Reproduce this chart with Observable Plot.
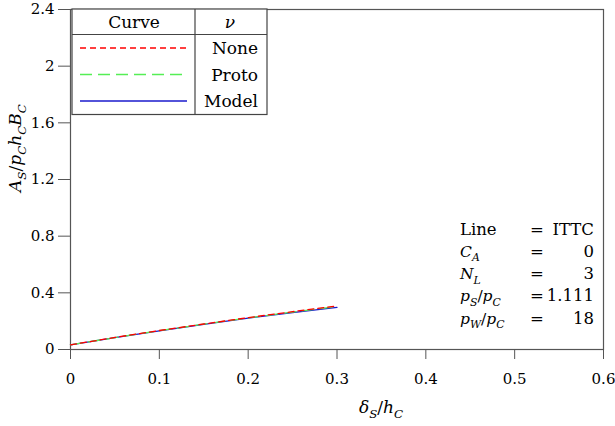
<!DOCTYPE html>
<html>
<head>
<meta charset="utf-8">
<script src="https://cdn.jsdelivr.net/npm/d3@7"></script>
<script src="https://cdn.jsdelivr.net/npm/@observablehq/plot@0.6"></script>
<style>
  html, body { margin: 0; padding: 0; background: #fff; }
  #chart { width: 615px; height: 426px; }
</style>
</head>
<body>
<div id="chart"></div>
<script>
// ---- data ----
const deltaS = [0, 0.05, 0.1, 0.15, 0.2, 0.25, 0.3];
const noneVals  = [0.033, 0.085, 0.134, 0.180, 0.225, 0.267, 0.308];
const protoVals = [0.033, 0.084, 0.133, 0.179, 0.223, 0.264, 0.303];
const modelVals = [0.033, 0.084, 0.132, 0.177, 0.221, 0.260, 0.298];
const seriesNames = ["None", "Proto", "Model"];
const seriesColors = ["#ff0000", "#55ee55", "#1a1acc"];
const seriesDash = ["6,4", "12,6", null];
const xTicks = [0, 0.1, 0.2, 0.3, 0.4, 0.5, 0.6];
const yTicks = [0, 0.4, 0.8, 1.2, 1.6, 2, 2.4];
const paramNames = ["Line", "C|A", "N|L", "p|S/p|C", "p|W/p|C"];
const paramValues = ["ITTC", "0", "3", "1.111", "18"];

const seriesVals = [noneVals, protoVals, modelVals];
const rows = [];
seriesNames.forEach((s, i) => deltaS.forEach((x, j) => rows.push({series: s, x, y: seriesVals[i][j]})));

const axisColor = "#555";
const font = "DejaVu Serif";

const lineMarks = [2, 1, 0].map(i =>
  Plot.line(rows.filter(d => d.series === seriesNames[i]), {
    x: "x", y: "y", stroke: seriesColors[i], strokeWidth: 1.3,
    strokeDasharray: seriesDash[i] || undefined
  })
);

const plot = Plot.plot({
  width: 615, height: 426,
  marginLeft: 70, marginRight: 12, marginTop: 9, marginBottom: 77,
  style: {fontFamily: font, fontSize: "15px", color: "#000", background: "#fff"},
  x: {domain: [0, 0.6]},
  y: {domain: [0, 2.4]},
  marks: [
    Plot.frame({stroke: axisColor, strokeWidth: 1.2}),
    Plot.axisX({ticks: xTicks, tickSize: 10, tickPadding: 14, stroke: axisColor, fill: "#000",
      tickFormat: d => String(d), label: null, fontSize: 15}),
    Plot.axisY({ticks: yTicks, tickSize: 12, tickPadding: 4, stroke: axisColor, fill: "#000",
      tickFormat: d => String(d), label: null, fontSize: 15}),
    ...lineMarks
  ]
});
document.getElementById("chart").appendChild(plot);

const svg = d3.select(plot);

function mathSpans(sel, spec, size) {
  let shifted = 0;
  spec.forEach(([t, it, sub]) => {
    const ts = sel.append("tspan").text(t)
      .attr("font-style", it ? "italic" : "normal")
      .attr("font-size", sub ? size * 0.7 : size);
    const target = sub ? size * 0.3 : 0;
    ts.attr("dy", target - shifted);
    shifted = target;
  });
}

// y label
const yl = svg.append("text").attr("transform", "translate(21,148) rotate(-90)")
  .attr("text-anchor", "middle").attr("font-family", font).attr("fill", "#000");
mathSpans(yl, [["A", 1, 0], ["S", 1, 1], ["/", 0, 0], ["p", 1, 0], ["C", 1, 1], ["h", 1, 0], ["C", 1, 1], ["B", 1, 0], ["C", 1, 1]], 17);

// x label
const xl = svg.append("text").attr("x", 381).attr("y", 413)
  .attr("text-anchor", "middle").attr("font-family", font).attr("fill", "#000");
mathSpans(xl, [["δ", 1, 0], ["S", 1, 1], ["/", 0, 0], ["h", 1, 0], ["C", 1, 1]], 17);

// legend table
const lg = svg.append("g").attr("font-family", font).attr("font-size", 17).attr("fill", "#000");
const L = 72, R = 267, T = 9, H = 34.5, B = 114.5, C = 195;
lg.append("rect").attr("x", L).attr("y", T).attr("width", R - L).attr("height", B - T)
  .attr("fill", "#fff").attr("stroke", "#444").attr("stroke-width", 1.2);
lg.append("line").attr("x1", L).attr("x2", R).attr("y1", H).attr("y2", H).attr("stroke", "#444").attr("stroke-width", 1.2);
lg.append("line").attr("x1", C).attr("x2", C).attr("y1", T).attr("y2", B).attr("stroke", "#444").attr("stroke-width", 1.2);
lg.append("text").attr("x", 134).attr("y", 28).attr("text-anchor", "middle").text("Curve");
lg.append("text").attr("x", 230).attr("y", 28).attr("text-anchor", "middle").attr("font-style", "italic").text("ν");
seriesNames.forEach((s, i) => {
  const yy = 48 + i * 26.5;
  lg.append("line").attr("x1", 80).attr("x2", 187).attr("y1", yy).attr("y2", yy)
    .attr("stroke", seriesColors[i]).attr("stroke-width", 1.3)
    .attr("stroke-dasharray", seriesDash[i] || null);
  lg.append("text").attr("x", 258).attr("y", yy + 6).attr("text-anchor", "end").text(s);
});

// parameter annotation
const pa = svg.append("g").attr("font-family", font).attr("fill", "#000");
paramNames.forEach((p, i) => {
  const by = 234.5 + i * 22.3;
  const t = pa.append("text").attr("x", 460).attr("y", by).attr("text-anchor", "start");
  if (p.includes("|")) {
    const spec = [];
    p.split("/").forEach((part, k) => {
      if (k > 0) spec.push(["/", 0, 0]);
      const [b, s] = part.split("|");
      spec.push([b, 1, 0]); spec.push([s, 1, 1]);
    });
    mathSpans(t, spec, 15.5);
  } else {
    t.attr("font-size", 16.5).text(p);
  }
  pa.append("text").attr("x", 537).attr("y", by).attr("text-anchor", "middle").attr("font-size", 16.5).text("=");
  pa.append("text").attr("x", 594).attr("y", by).attr("text-anchor", "end").attr("font-size", 16.5).text(paramValues[i]);
});
</script>
</body>
</html>
